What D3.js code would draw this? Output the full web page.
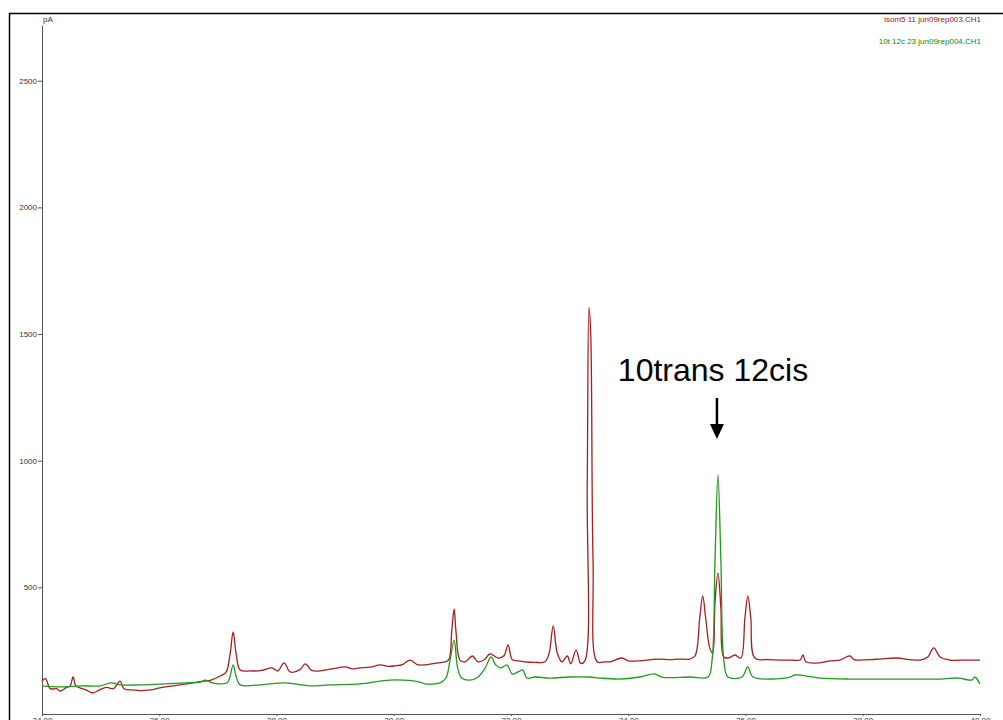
<!DOCTYPE html>
<html>
<head>
<meta charset="utf-8">
<script src="https://cdn.jsdelivr.net/npm/d3@7"></script>
<style>
  body { margin: 0; background: #fff; }
  svg { display: block; }
  .axis text { font-family: "Liberation Sans", Arial, sans-serif; font-size: 8px; fill: #333; }
  .axis path, .axis line { stroke: #555; }
</style>
</head>
<body>
<svg id="chart"></svg>
<script>
// retention time (min) / signal (pA)
var redTimes = [24.00,24.06,24.14,24.25,24.31,24.42,24.48,24.53,24.58,24.65,24.75,24.87,24.98,25.10,25.22,25.33,25.40,25.55,25.67,25.85,
  26.01,26.20,26.35,26.55,26.70,26.87,27.04,27.14,27.21,27.26,27.31,27.38,27.55,27.75,27.92,28.02,28.13,28.23,28.40,28.49,
  28.60,28.74,28.95,29.17,29.30,29.42,29.60,29.77,29.90,30.02,30.15,30.28,30.40,30.53,30.70,30.87,30.94,30.99,31.03,31.06,
  31.13,31.22,31.34,31.44,31.55,31.64,31.72,31.78,31.88,31.95,32.02,32.12,32.24,32.40,32.58,32.65,32.72,32.79,32.87,32.96,
  33.02,33.11,33.19,33.26,33.30,33.33,33.36,33.40,33.47,33.60,33.69,33.89,34.00,34.20,34.40,34.54,34.70,34.88,35.05,35.14,
  35.22,35.27,35.32,35.39,35.44,35.48,35.53,35.58,35.63,35.72,35.82,35.92,35.99,36.04,36.09,36.16,36.40,36.59,36.80,36.93,
  36.98,37.03,37.27,37.45,37.61,37.78,37.85,37.95,38.15,38.29,38.58,38.80,38.98,39.11,39.21,39.32,39.49,39.75,40.00];
var redValues = [130,140,100,100,90,105,110,146,110,103,95,83,95,105,100,130,100,95,92,95,
  103,110,115,122,128,133,150,165,240,324,240,174,170,172,182,170,202,166,175,198,
  172,170,178,186,178,182,185,194,188,190,195,213,195,194,200,206,215,330,415,330,
  213,206,229,206,215,237,228,221,230,273,215,210,206,204,206,240,348,240,206,229,
  198,253,200,210,900,1605,1500,600,206,206,206,221,210,210,215,217,215,217,217,230,
  380,466,380,261,240,440,557,420,225,222,233,221,380,466,380,221,215,213,213,213,
  233,206,202,210,213,229,215,213,215,217,221,215,213,225,261,225,213,213,213];

var greenTimes = [24.00,24.31,24.65,24.99,25.19,25.33,25.67,26.10,26.44,26.70,26.78,26.90,27.04,27.16,27.21,27.26,27.31,27.38,27.72,28.15,
  28.57,28.91,29.42,29.94,30.45,30.53,30.79,30.89,30.96,31.03,31.09,31.16,31.30,31.44,31.56,31.66,31.74,31.83,31.93,32.02,
  32.12,32.20,32.27,32.41,32.66,33.00,33.34,33.51,33.85,34.20,34.45,34.57,35.05,35.36,35.43,35.48,35.53,35.58,35.63,35.70,
  35.94,36.04,36.13,36.76,36.84,37.27,37.78,38.29,38.64,39.32,39.63,39.86,39.91,40.00];
var greenValues = [111,107,111,111,123,115,115,119,123,126,134,123,119,123,150,194,150,115,115,123,
  111,115,119,134,126,119,123,142,213,292,182,142,134,146,182,225,194,182,194,158,
  166,174,142,146,142,146,146,142,138,146,158,146,146,146,213,609,945,609,213,146,
  146,186,146,146,154,142,138,138,138,138,142,134,146,119];

var yTicks = [500, 1000, 1500, 2000, 2500];
var xTicks = [24, 26, 28, 30, 32, 34, 36, 38, 40];
var legendLabels = ['isom5 11 jun09rep003.CH1', '10t 12c 23 jun09rep004.CH1'];
var annotation = '10trans 12cis';
var annotationTime = 35.53;

var width = 1003,
  height = 720;

var svg = d3.select('#chart')
  .attr('width', width)
  .attr('height', height);

// outer frame
svg.append('rect')
  .attr('x', 9.5)
  .attr('y', 13.5)
  .attr('width', width)
  .attr('height', height)
  .attr('fill', 'none')
  .attr('stroke', '#000')
  .attr('stroke-width', 1.5);

var x = d3.scaleLinear()
  .domain([24, 40])
  .range([42, 980]);

var y = d3.scaleLinear()
  .domain([0, 2720])
  .range([714, 25]);

svg.append('g')
  .attr('class', 'axis')
  .attr('transform', 'translate(42,0)')
  .call(d3.axisLeft(y)
    .tickValues(yTicks)
    .tickSize(4)
    .tickSizeOuter(0)
    .tickPadding(1)
    .tickFormat(d3.format('d'))
  );

svg.append('g')
  .attr('class', 'axis')
  .attr('transform', 'translate(0,714)')
  .call(d3.axisBottom(x)
    .tickValues(xTicks)
    .tickSize(2)
    .tickSizeOuter(0)
    .tickPadding(1)
    .tickFormat(d3.format('.2f'))
  );

svg.append('text')
  .attr('x', 43)
  .attr('y', 22)
  .attr('font-family', 'Liberation Sans, Arial, sans-serif')
  .attr('font-size', 8)
  .attr('fill', '#333')
  .text('pA');

var line = d3.line()
  .curve(d3.curveCatmullRom.alpha(0.5))
  .x(function(d) { return x(d[0]); })
  .y(function(d) { return y(d[1]); });

var red = d3.zip(redTimes, redValues);
var green = d3.zip(greenTimes, greenValues);

svg.append('path')
  .datum(red)
  .attr('d', line)
  .attr('fill', 'none')
  .attr('stroke', '#a32020')
  .attr('stroke-width', 1.3);

svg.append('path')
  .datum(green)
  .attr('d', line)
  .attr('fill', 'none')
  .attr('stroke', '#1f9a1f')
  .attr('stroke-width', 1.3);

// legend, top right
svg.selectAll('.legend')
  .data(legendLabels)
  .enter().append('text')
  .attr('class', 'legend')
  .attr('x', 981)
  .attr('y', function(d, i) { return 22 + i * 22; })
  .attr('text-anchor', 'end')
  .attr('font-family', 'Liberation Sans Narrow, Liberation Sans, Arial, sans-serif')
  .attr('font-size', 8)
  .attr('fill', function(d, i) { return i === 0 ? '#a01818' : '#108a10'; })
  .text(function(d) { return d; });

// annotation with arrow
var ax = x(annotationTime) - 1;
svg.append('text')
  .attr('x', 713)
  .attr('y', 381)
  .attr('text-anchor', 'middle')
  .attr('font-family', 'Liberation Sans, Arial, sans-serif')
  .attr('font-size', 32)
  .attr('fill', '#000')
  .text(annotation);

svg.append('line')
  .attr('x1', ax)
  .attr('x2', ax)
  .attr('y1', 398)
  .attr('y2', 428)
  .attr('stroke', '#000')
  .attr('stroke-width', 2.5);

svg.append('path')
  .attr('d', 'M' + (ax - 7) + ',424L' + (ax + 7) + ',424L' + ax + ',439Z')
  .attr('fill', '#000');
</script>
</body>
</html>
